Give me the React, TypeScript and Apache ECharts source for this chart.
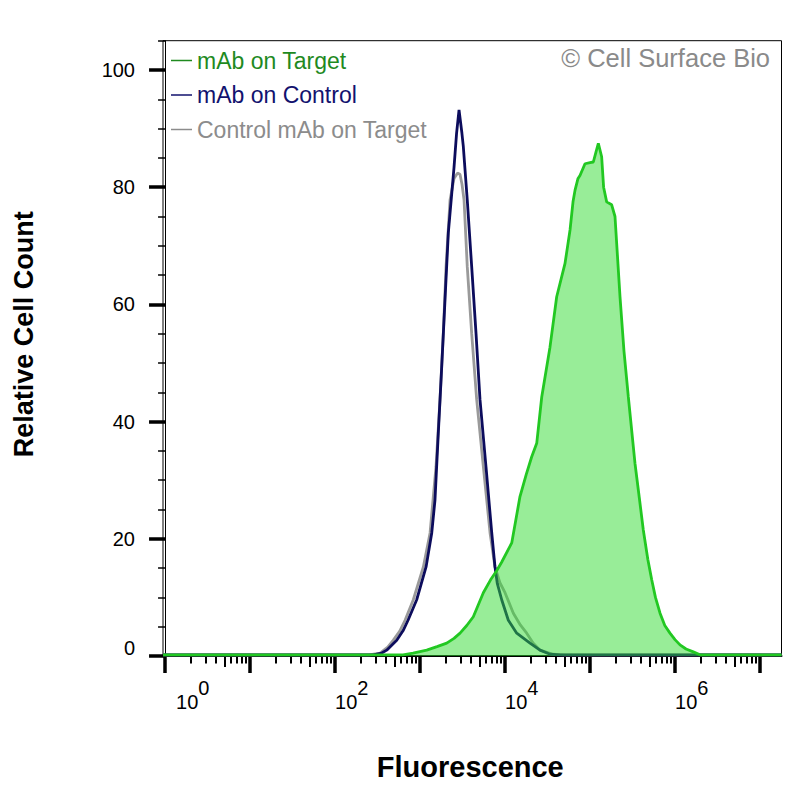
import React, { useEffect, useRef } from "react";
import * as echarts from "echarts";

// x values are log10(fluorescence); y values are relative cell count (%)
const targetLogF = [-0.024, 2.8, 2.918, 3.079, 3.2, 3.314, 3.4, 3.471, 3.55, 3.627, 3.745, 3.83, 3.9, 3.96, 4.079, 4.176, 4.25, 4.314, 4.373, 4.432, 4.529, 4.608, 4.706, 4.765, 4.8, 4.824, 4.859, 4.882, 4.941, 5.0, 5.039, 5.07, 5.098, 5.137, 5.16, 5.196, 5.255, 5.294, 5.353, 5.4, 5.451, 5.529, 5.58, 5.627, 5.68, 5.726, 5.77, 5.824, 5.88, 5.941, 6.0, 6.059, 6.13, 6.215, 6.294, 7.253];
const targetCount = [0.2, 0.2, 0.5, 1.0, 1.6, 2.2, 3.0, 3.9, 5.2, 6.7, 10.8, 13.0, 14.5, 16.0, 19.3, 27.2, 31.0, 34.0, 36.3, 44.2, 52.7, 61.3, 67.0, 72.7, 77.5, 79.5, 81.5, 82.0, 84.0, 84.2, 84.3, 86.0, 87.5, 85.2, 80.0, 77.5, 77.0, 75.0, 61.3, 52.0, 44.2, 32.9, 27.0, 21.5, 16.5, 13.0, 10.0, 7.3, 5.2, 3.9, 2.8, 1.9, 1.2, 0.7, 0.2, 0.2];

const controlLogF = [-0.024, 2.45, 2.55, 2.608, 2.726, 2.8, 2.859, 2.961, 3.071, 3.138, 3.176, 3.215, 3.255, 3.294, 3.333, 3.4, 3.43, 3.459, 3.493, 3.509, 3.556, 3.608, 3.659, 3.706, 3.776, 3.844, 3.882, 3.909, 3.961, 4.039, 4.138, 4.294, 4.412, 4.53, 4.65, 7.253];
const controlCount = [0.2, 0.2, 0.5, 1.0, 2.7, 4.3, 6.1, 9.6, 15.2, 21.0, 26.6, 38.0, 49.3, 60.8, 72.2, 83.4, 89.2, 93.2, 89.2, 87.0, 77.8, 66.4, 55.0, 43.7, 32.3, 21.0, 15.2, 12.4, 9.6, 6.1, 3.9, 2.2, 1.0, 0.3, 0.2, 0.2];

const isotypeLogF = [-0.024, 2.4, 2.53, 2.62, 2.686, 2.76, 2.824, 2.921, 3.039, 3.118, 3.188, 3.235, 3.274, 3.306, 3.353, 3.4, 3.44, 3.47, 3.494, 3.518, 3.556, 3.608, 3.667, 3.745, 3.824, 3.882, 3.94, 4.0, 4.098, 4.18, 4.255, 4.33, 4.412, 4.565, 4.7, 7.253];
const isotypeCount = [0.2, 0.2, 0.5, 1.5, 2.7, 4.2, 6.1, 9.6, 15.2, 21.0, 32.3, 43.7, 55.0, 66.4, 77.8, 81.5, 82.4, 82.2, 80.5, 77.8, 66.4, 55.0, 43.7, 32.3, 21.0, 15.2, 12.5, 10.8, 7.3, 5.3, 3.9, 2.2, 1.0, 0.3, 0.2, 0.2];

const seriesNames = ["mAb on Target", "mAb on Control", "Control mAb on Target"];
const legendTextColors = ["#1f8a1f", "#12126e", "#8c8c8c"];

const xMajorDecades = [0, 1, 2, 3, 4, 5, 6, 7];
const xLabelDecades = [0, 2, 4, 6];
const xMidMultipliers = [5];
const xMinorMultipliers = [2, 3, 4, 6, 7, 8, 9];
const yMajorTicks = [0, 20, 40, 60, 80, 100];
const yMinorTicks = [5, 10, 15, 25, 30, 35, 45, 50, 55, 65, 70, 75, 85, 90, 95, 105];

const X_MIN = -0.024;
const X_MAX = 7.253;
const FONT = "'Liberation Sans', Arial, Helvetica, sans-serif";

const zip = (xs: number[], ys: number[]) => xs.map((x, i) => [x, ys[i]]);
const logTicks = (mults: number[]) => {
  const out: number[] = [];
  for (let d = 0; d < 8; d++) {
    for (const m of mults) {
      const v = d + Math.log10(m);
      if (v <= X_MAX) out.push(v);
    }
  }
  return out;
};

export default function App() {
  const ref = useRef<HTMLDivElement>(null);
  useEffect(() => {
    if (!ref.current) return;
    const chart = echarts.init(ref.current, undefined, { renderer: "svg" });
    const baseX = {
      type: "value" as const,
      min: X_MIN,
      max: X_MAX,
      position: "bottom" as const,
      splitLine: { show: false },
    };
    const baseY = {
      type: "value" as const,
      min: 0,
      max: 105,
      position: "left" as const,
      splitLine: { show: false },
    };
    chart.setOption({
      animation: false,
      backgroundColor: "#ffffff",
      textStyle: { fontFamily: FONT },
      grid: {
        left: 163,
        right: 18.5,
        top: 40.7,
        bottom: 144,
        show: true,
        borderColor: "#000",
        borderWidth: 1,
        containLabel: false,
        outerBoundsMode: "none",
      },
      legend: {
        orient: "vertical",
        left: 166,
        top: 44,
        itemWidth: 21,
        itemHeight: 1.5,
        itemGap: 11.5,
        icon: "rect",
        selectedMode: false,
        textStyle: { fontSize: 23, fontFamily: FONT },
        data: seriesNames.map((n, i) => ({
          name: n,
          itemStyle: { color: legendTextColors[i] },
          textStyle: { color: legendTextColors[i] },
        })),
      },
      graphic: [
        {
          type: "text",
          right: 30,
          top: 45,
          style: {
            text: "© Cell Surface Bio",
            fill: "#8a8a8a",
            fontSize: 25.5,
            fontFamily: FONT,
          },
        },
      ],
      xAxis: [
        {
          ...baseX,
          name: "Fluorescence",
          nameLocation: "middle",
          nameGap: 96,
          nameTextStyle: { fontSize: 29, fontWeight: "bold", color: "#000", fontFamily: FONT, padding: [0, 4, 0, 0] },
          axisLine: { show: true, lineStyle: { color: "#000", width: 2 } },
          axisTick: {
            show: true,
            customValues: xMajorDecades,
            length: 17,
            lineStyle: { color: "#000", width: 3.5 },
          },
          axisLabel: {
            show: true,
            customValues: xLabelDecades,
            margin: 22,
            align: "left",
            color: "#000",
            formatter: (v: number) => {
              const e = Math.round(v);
              return e === 0 ? `{b0|10}{s|${e}}` : `{b|10}{s|${e}}`;
            },
            rich: {
              b: { fontSize: 20, color: "#000", fontFamily: FONT, verticalAlign: "bottom" },
              b0: { fontSize: 20, color: "#000", fontFamily: FONT, verticalAlign: "bottom", padding: [0, 0, 0, 11] },
              s: { fontSize: 20, color: "#000", fontFamily: FONT, verticalAlign: "top", padding: [0, 0, 14, 0] },
            },
          },
        },
        {
          ...baseX,
          axisLine: { show: false },
          axisTick: { show: true, customValues: logTicks(xMidMultipliers), length: 11, lineStyle: { color: "#000", width: 2 } },
          axisLabel: { show: false },
        },
        {
          ...baseX,
          axisLine: { show: false },
          axisTick: { show: true, customValues: logTicks(xMinorMultipliers), length: 7.5, lineStyle: { color: "#000", width: 2 } },
          axisLabel: { show: false },
        },
      ],
      yAxis: [
        {
          ...baseY,
          name: "Relative Cell Count",
          nameLocation: "middle",
          nameGap: 126,
          nameRotate: 90,
          nameTextStyle: { fontSize: 27, fontWeight: "bold", color: "#000", fontFamily: FONT, padding: [0, 0, 0, 28] },
          axisLine: { show: true, lineStyle: { color: "#000", width: 1 } },
          axisTick: { show: true, customValues: yMajorTicks, length: 16, lineStyle: { color: "#000", width: 3.5 } },
          axisLabel: {
            show: true,
            customValues: yMajorTicks,
            margin: 28,
            color: "#000",
            fontSize: 20,
            fontFamily: FONT,
            formatter: (v: number) => (v === 0 ? "{z|0}" : String(v)),
            rich: { z: { fontSize: 20, color: "#000", fontFamily: FONT, padding: [0, 0, 16, 0] } },
          },
        },
        {
          ...baseY,
          axisLine: { show: false },
          axisTick: { show: true, customValues: yMinorTicks, length: 7, lineStyle: { color: "#000", width: 1.5 } },
          axisLabel: { show: false },
        },
      ],
      series: [
        {
          name: seriesNames[2],
          type: "line",
          data: zip(isotypeLogF, isotypeCount),
          showSymbol: false,
          itemStyle: { color: "#9a9a9a" },
          lineStyle: { color: "#9a9a9a", width: 2.8 },
          z: 2,
        },
        {
          name: seriesNames[1],
          type: "line",
          data: zip(controlLogF, controlCount),
          showSymbol: false,
          itemStyle: { color: "#0c0c5c" },
          lineStyle: { color: "#0c0c5c", width: 2.8 },
          z: 3,
        },
        {
          name: seriesNames[0],
          type: "line",
          data: zip(targetLogF, targetCount),
          showSymbol: false,
          itemStyle: { color: "#22c822" },
          lineStyle: { color: "#22c822", width: 2.8 },
          areaStyle: { color: "rgb(50,220,50)", opacity: 0.5 },
          z: 4,
        },
      ],
    });
    return () => chart.dispose();
  }, []);
  return (
    <div
      ref={ref}
      style={{ position: "fixed", left: 0, top: 0, width: 800, height: 800, background: "#fff" }}
    />
  );
}
